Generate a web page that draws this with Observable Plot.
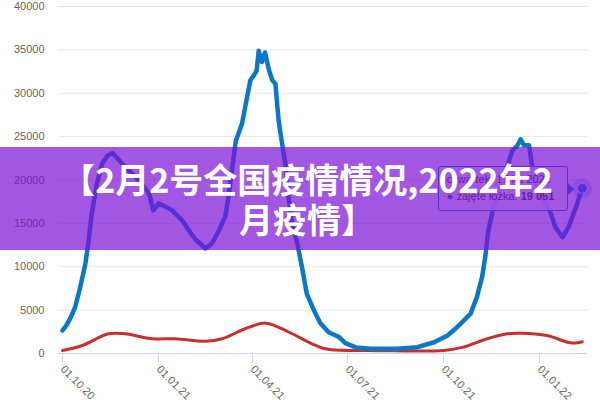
<!DOCTYPE html>
<html><head><meta charset="utf-8">
<script src="https://cdn.jsdelivr.net/npm/d3@7"></script>
<script src="https://cdn.jsdelivr.net/npm/@observablehq/plot@0.6"></script>
<style>
body{margin:0;background:#fff;}
#wrap{position:relative;width:600px;height:400px;overflow:hidden;font-family:"Liberation Sans",Arial,sans-serif;}
#chart{position:absolute;left:0;top:0;}
#tip{position:absolute;background:rgba(255,255,255,0.85);border:1px solid #0a78c6;border-radius:3px;font-size:11px;color:#333;box-sizing:border-box;padding:4px 8px;line-height:17px;white-space:nowrap;width:130px;height:45px}
#tip b{font-weight:bold}
#tip .dotc{color:#0a78c6}
#tip .arrow{position:absolute;right:-7px;top:15px;width:0;height:0;border-top:7px solid transparent;border-bottom:7px solid transparent;border-left:7px solid #0a78c6}
#banner{position:absolute;left:0;top:147px;width:600px;height:103px;background:rgba(122,16,214,0.7);display:flex;align-items:center;justify-content:center;text-align:center;color:#fff;font-family:"Noto Sans CJK SC",sans-serif;font-weight:700;font-size:34px;line-height:40px;padding-left:14px;box-sizing:border-box}
</style></head>
<body>
<div id="wrap">
  <div id="chart"></div>
  <div id="tip"><span>czwartek, 17 lut 2022</span><br><span class="dotc">●</span> zajęte łóżka: <b>19 051</b><div class="arrow"></div></div>
  <div id="banner"><div>【2月2号全国疫情情况,2022年2<br>月疫情】</div></div>
</div>
<script>
// Blue series: occupied beds
const blueDates = ["2020-10-01","2020-10-05","2020-10-09","2020-10-13","2020-10-18","2020-10-23","2020-10-26","2020-10-29","2020-11-03","2020-11-08","2020-11-13","2020-11-18","2020-11-22","2020-11-27","2020-12-07","2020-12-16","2020-12-23","2020-12-27","2021-01-01","2021-01-08","2021-01-14","2021-01-24","2021-01-30","2021-02-05","2021-02-15","2021-02-21","2021-02-28","2021-03-06","2021-03-09","2021-03-16","2021-03-22","2021-03-25","2021-03-30","2021-04-02","2021-04-05","2021-04-07","2021-04-10","2021-04-13","2021-04-17","2021-04-20","2021-04-23","2021-04-26","2021-04-29","2021-05-03","2021-05-06","2021-05-09","2021-05-14","2021-05-19","2021-05-23","2021-05-30","2021-06-05","2021-06-13","2021-06-23","2021-06-29","2021-07-09","2021-07-23","2021-08-18","2021-09-06","2021-09-22","2021-10-05","2021-10-14","2021-10-27","2021-11-02","2021-11-07","2021-11-10","2021-11-13","2021-11-18","2021-11-25","2021-12-01","2021-12-06","2021-12-11","2021-12-14","2021-12-17","2021-12-22","2021-12-27","2022-01-04","2022-01-12","2022-01-16","2022-01-23","2022-01-29","2022-02-05","2022-02-11"];
const blueValues = [2650,3300,4200,5300,7650,10400,13000,16100,19600,21900,22800,23100,22600,21900,20700,19600,18400,16500,17300,16900,16500,15300,14200,13200,12100,12650,14200,15800,18000,24500,26500,28400,31500,32000,32600,34900,33600,34700,32600,31500,31100,26900,24500,21500,17600,14950,12650,9600,6900,4950,3500,2450,1900,1200,700,540,540,730,1300,2070,3030,4600,6500,8800,11100,14200,16900,19200,21500,23400,24000,24700,24000,24000,19900,18000,16100,14600,13400,14600,16900,19051];
// Red series
const redDates = ["2020-10-01","2020-10-20","2020-11-14","2020-11-30","2020-12-26","2021-01-17","2021-02-15","2021-03-03","2021-03-25","2021-04-14","2021-05-06","2021-05-28","2021-06-10","2021-06-20","2021-07-28","2021-10-01","2021-10-20","2021-11-12","2021-12-01","2021-12-14","2022-01-08","2022-01-28","2022-02-04","2022-02-11"];
const redValues = [350,920,2270,2270,1700,1700,1420,1700,2850,3500,2450,1120,540,400,330,350,730,1700,2270,2340,2070,1300,1200,1350];
// Axis ticks
const xTickDates = ["2020-10-01","2021-01-01","2021-04-01","2021-07-01","2021-10-01","2022-01-01"];
const yTicks = [0,5000,10000,15000,20000,25000,30000,35000,40000];

const parse = d3.utcParse("%Y-%m-%d");
const fmt = d3.utcFormat("%d.%m.%y");
const blue = blueDates.map((d,i)=>({date:parse(d), value:blueValues[i]}));
const red = redDates.map((d,i)=>({date:parse(d), value:redValues[i]}));
const last = blue[blue.length-1];

const chart = Plot.plot({
  width:600, height:400,
  marginLeft:58, marginRight:13, marginTop:6, marginBottom:47,
  style:{fontFamily:"Liberation Sans, Arial, sans-serif", fontSize:"11px", background:"transparent", overflow:"visible"},
  x:{type:"utc", domain:[new Date(Date.UTC(2020,8,27,4)), parse("2022-02-16")], label:null},
  y:{domain:[0,40000], label:null},
  marks:[
    Plot.gridY(yTicks,{stroke:"#e6e6e6", strokeOpacity:1}),
    Plot.ruleY([0],{stroke:"#ccd6eb"}),
    Plot.axisY(yTicks,{tickSize:0, tickPadding:14, tickFormat:d=>String(d), fill:"#666", label:null}),
    Plot.axisX(xTickDates.map(parse),{tickSize:10, tickPadding:4, tickRotate:45, tickFormat:d=>fmt(d), stroke:"#ccd6eb", fill:"#666", label:null}),
    Plot.lineY(red,{x:"date", y:"value", stroke:"#c8302f", strokeWidth:3, curve:"catmull-rom"}),
    Plot.lineY(blue,{x:"date", y:"value", stroke:"#0a78c6", strokeWidth:4.5, curve:"linear", strokeLinejoin:"round"}),
    Plot.dot([last],{x:"date", y:"value", r:10, fill:"#0a78c6", fillOpacity:0.25}),
    Plot.dot([last],{x:"date", y:"value", r:5, fill:"#0a78c6", stroke:"#fff", strokeWidth:1})
  ]
});
document.getElementById("chart").appendChild(chart);
// Tooltip positioned from the scales
const px = chart.scale("x").apply(last.date);
const py = chart.scale("y").apply(last.value);
const tip = document.getElementById("tip");
tip.style.left = (px - 14 - 130) + "px";
tip.style.top = (py - 22) + "px";
</script>
</body></html>
